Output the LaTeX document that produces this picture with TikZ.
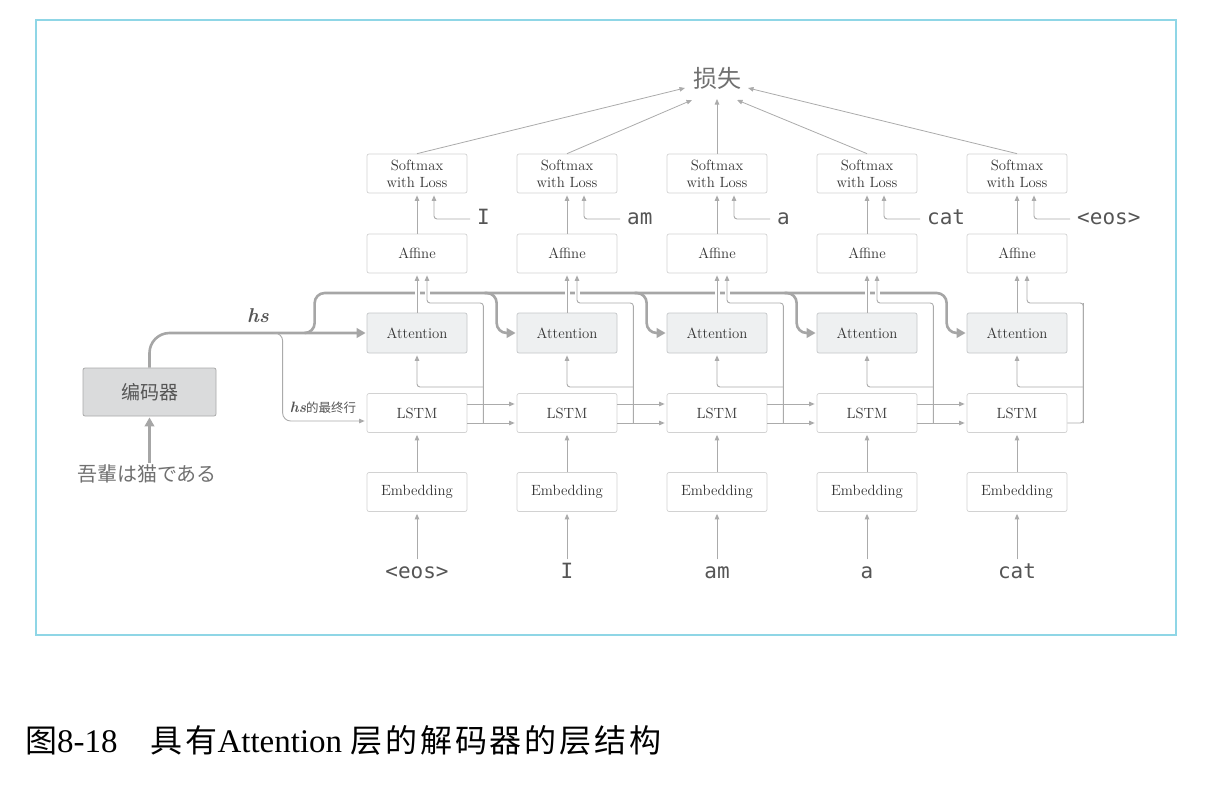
\documentclass[tikz,border=0pt]{standalone}
\usepackage{fontspec}
\usetikzlibrary{arrows.meta,calc}
\newfontfamily\cjk{Noto Sans CJK SC}
\newfontfamily\cjkcap[LetterSpace=9]{Noto Sans CJK SC}
\newfontfamily\cjkjp{Noto Sans CJK JP}
\newfontfamily\monof{DejaVu Sans Mono}
\newfontfamily\capserif{Liberation Serif}
\definecolor{lnc}{HTML}{ABABAB}
\definecolor{bxc}{HTML}{D2D2D2}
\definecolor{attfill}{HTML}{EEF0F1}
\definecolor{attdraw}{HTML}{C4C6C8}
\definecolor{txtc}{HTML}{333333}
\definecolor{wordc}{HTML}{555555}
\definecolor{hsc}{HTML}{A6A6A6}
\definecolor{encfill}{HTML}{DADBDC}
\definecolor{encdraw}{HTML}{A9A9A9}
\definecolor{framec}{HTML}{8FD6E6}
\definecolor{grayt}{HTML}{707070}
\pgfdeclarelayer{background}
\pgfsetlayers{background,main}
\tikzset{
  box/.style={draw=bxc, fill=white, rounded corners=2pt, minimum width=100pt,
    minimum height=39pt, inner sep=0pt, font=\fontsize{14.8}{17}\selectfont,
    align=center, text=txtc, line width=0.7pt},
  attbox/.style={box, fill=attfill, draw=attdraw, minimum height=40pt},
  word/.style={font=\monof\fontsize{21}{21}\selectfont, text=wordc, inner ysep=2pt, inner xsep=0pt,
    text height=15pt, text depth=4pt},
  arr/.style={draw=lnc, line width=0.9pt, -{Triangle[length=5.5pt,width=4.5pt]}, shorten >=2pt},
  lnk/.style={draw=lnc, line width=0.9pt},
  hsl/.style={draw=hsc, line width=2.6pt},
  hsarr/.style={hsl, -{Triangle[length=9pt,width=9.5pt]}, shorten >=1pt},
  halo/.style={draw=white, line width=5pt}
}
\begin{document}
\begin{tikzpicture}[x=1pt,y=-1pt]
\useasboundingbox (0,0) rectangle (1214,800);
\draw[draw=framec, line width=1.5pt] (36,20) rectangle (1176,635);

% columns
\foreach \i/\x/\tw/\iw in {1/417/I/{<eos>},2/567/am/I,3/717/a/am,4/867/cat/a,5/1017/{<eos>}/cat}{
  \node[box] (sm\i) at (\x,173.5) {Softmax\\with Loss};
  \node[box] (af\i) at (\x,253.5) {Affine};
  \node[attbox] (at\i) at (\x,333) {Attention};
  \node[box] (ls\i) at (\x,413) {LSTM};
  \node[box] (em\i) at (\x,492) {Embedding};
  \node[word] (in\i) at (\x,573) {\iw};
  \node[word, anchor=west, inner xsep=7pt] (tg\i) at (\x+53,219) {\tw};
}

\node[font=\cjk\fontsize{24}{24}\selectfont, text=grayt] (loss) at (717,78) {损失};

% encoder
\node[draw=encdraw, fill=encfill, rounded corners=2pt, minimum width=133pt, minimum height=48pt,
  line width=0.8pt, font=\cjk\fontsize{19}{19}\selectfont, text=wordc] (enc) at (149.5,392) {编码器};
\node[font=\cjkjp\fontsize{20}{20}\selectfont, text=grayt, inner sep=2pt] (src) at (147,474) {吾輩は猫である};

\node[font=\bfseries\itshape\fontsize{20}{20}\selectfont, text=wordc] (hslab) at (258,316) {hs};
\node[inner sep=0pt, text=wordc] (hslast) at (323,408) {{\bfseries\itshape\fontsize{15}{15}\selectfont hs}{\cjk\fontsize{12.5}{13}\selectfont 的最终行}};

% caption
\node[anchor=west, inner sep=0pt, text=black] (cap) at (25,740)
  {{\cjkcap\fontsize{32}{33}\selectfont 图}{\capserif\fontsize{33}{33}\selectfont 8-18}\hspace{33pt}{\cjkcap\fontsize{32}{33}\selectfont 具有}{\capserif\fontsize{33}{33}\selectfont Attention }{\cjkcap\fontsize{32}{33}\selectfont 层的解码器的层结构}};

% thick hs lines and halos
\begin{pgfonlayer}{background}
\draw[hsarr, rounded corners=20pt] (enc.north) |- (at1.west);
\draw[hsarr, rounded corners=10pt] ([xshift=-62pt]at1.west) -| ([shift={(-52,-40)}]at1.west)
  -- ([shift={(-20,-40)}]at5.west) |- (at5.west);
\foreach \i in {2,3,4}{
  \draw[hsarr, rounded corners=10pt] ([shift={(-32,-40)}]at\i.west) -| ([xshift=-20pt]at\i.west) -- (at\i.west);
}
\foreach \i in {1,2,3,4}{
  \draw[halo] (at\i.north) -- (af\i.south);
  \draw[halo] ([xshift=10pt]af\i.south) -- ++(0,28);
}
\end{pgfonlayer}

% encoder input
\draw[hsarr] (src.north -| enc.south) -- (enc.south);

% thin connectors
\foreach \i/\d in {1/{(-32,10)},2/{(-25,22)},3/{(0,21)},4/{(20,22)},5/{(31,10)}}{
  \draw[arr, shorten >=0pt, line width=0.8pt] (sm\i.north) -- ([shift=\d]loss.center);
}
\foreach \i in {1,...,5}{
  \draw[arr] (af\i.north) -- (sm\i.south);
  \draw[arr] (at\i.north) -- (af\i.south);
  \draw[arr] (em\i.north) -- (ls\i.south);
  \draw[arr, shorten <=2pt] (in\i.north) -- (em\i.south);
  \draw[arr, rounded corners=3pt] (tg\i.west) -| ([xshift=17pt]sm\i.south);
  \coordinate (jb\i) at ([shift={(16,10)}]ls\i.east);
  \coordinate (jt\i) at ([shift={(16,-110)}]ls\i.east);
  \coordinate (jm\i) at ([shift={(16,-26)}]ls\i.east);
  \draw[arr, rounded corners=3pt] (jb\i) -- (jt\i) -| ([xshift=10pt]af\i.south);
  \draw[arr, rounded corners=3pt] (jm\i) -| (at\i.south);
}
\foreach \i/\j in {1/2,2/3,3/4,4/5}{
  \draw[arr] ([yshift=9pt]ls\i.east) -- ([yshift=9pt]ls\j.west);
  \draw[arr] ([yshift=-10pt]ls\i.east) -- ([yshift=-10pt]ls\j.west);
}
\draw[lnk, rounded corners=3pt] ([yshift=-10pt]ls5.east) -| (jt5);

% hs last row branch
\draw[arr, rounded corners=8pt] ([xshift=-94pt]at1.west) -| ([shift={(-84,8)}]ls1.west) -- ([yshift=-8pt]ls1.west);
\end{tikzpicture}
\end{document}
